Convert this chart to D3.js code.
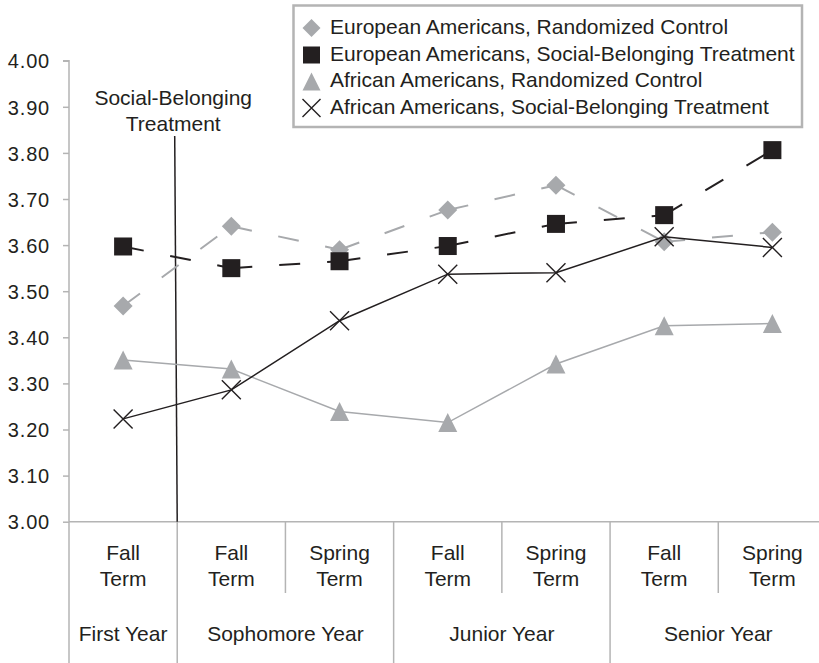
<!DOCTYPE html>
<html>
<head>
<meta charset="utf-8">
<script src="https://cdn.jsdelivr.net/npm/d3@7"></script>
<style>
  html, body { margin: 0; padding: 0; background: #fff; }
  svg { display: block; font-family: "Liberation Sans", Arial, Helvetica, sans-serif; }
</style>
</head>
<body>
<svg id="chart" width="819" height="663"></svg>
<script>
// ---- data ----
const terms = ["Fall Term", "Fall Term", "Spring Term", "Fall Term", "Spring Term", "Fall Term", "Spring Term"];
const termIds = ["FY-F", "SO-F", "SO-S", "JR-F", "JR-S", "SR-F", "SR-S"];
const years = ["First Year", "Sophomore Year", "Junior Year", "Senior Year"];
const yearSpans = [[0, 0], [1, 2], [3, 4], [5, 6]];
const yTicks = [3.0, 3.1, 3.2, 3.3, 3.4, 3.5, 3.6, 3.7, 3.8, 3.9, 4.0];

const euroControl = [3.468, 3.641, 3.590, 3.676, 3.730, 3.607, 3.628];
const euroTreat   = [3.597, 3.550, 3.565, 3.598, 3.646, 3.665, 3.806];
const afrControl  = [3.351, 3.331, 3.239, 3.215, 3.342, 3.425, 3.430];
const afrTreat    = [3.223, 3.286, 3.436, 3.537, 3.540, 3.618, 3.595];

const seriesNames = [
  "European Americans, Randomized Control",
  "European Americans, Social-Belonging Treatment",
  "African Americans, Randomized Control",
  "African Americans, Social-Belonging Treatment"
];
const annotation = ["Social-Belonging", "Treatment"];

// ---- styles ----
const GRAY = "#a7a9ac", BLACK = "#231f20", AXIS = "#b4b4b4";
const series = [
  { name: seriesNames[0], values: euroControl, color: GRAY,  dash: true,  marker: "diamond" },
  { name: seriesNames[1], values: euroTreat,   color: BLACK, dash: true,  marker: "square" },
  { name: seriesNames[2], values: afrControl,  color: GRAY,  dash: false, marker: "triangle" },
  { name: seriesNames[3], values: afrTreat,    color: BLACK, dash: false, marker: "x" }
];

const svg = d3.select("#chart");
const left = 69, axisY = 521.7, topY = 60.7;
const x = d3.scaleBand().domain(termIds).range([left, 826.5]).paddingInner(0).paddingOuter(0);
const cx = i => x(termIds[i]) + x.bandwidth() / 2;
const y = d3.scaleLinear().domain([3, 4]).range([axisY, topY]);

// ---- y axis ----
const yAxis = d3.axisLeft(y).tickValues(yTicks).tickFormat(d3.format(".2f")).tickSize(6).tickPadding(13);
const gy = svg.append("g").attr("transform", `translate(${left},0)`).call(yAxis);
gy.select(".domain").attr("stroke", AXIS).attr("stroke-width", 1.5).attr("d", `M-6,${topY}H0V${axisY}`);
gy.selectAll(".tick line").attr("stroke", AXIS).attr("stroke-width", 1.5);
gy.selectAll(".tick text").attr("fill", BLACK).style("font-size", "20px").style("letter-spacing", "0.8px")
  .attr("dy", "0.36em");

// ---- x axis ----
svg.append("line").attr("x1", left).attr("x2", 819).attr("y1", axisY).attr("y2", axisY)
  .attr("stroke", AXIS).attr("stroke-width", 1.5);
// dividers
const yearStarts = yearSpans.map(s => s[0]);
termIds.forEach((id, i) => {
  const bx = x(id);
  const isYear = yearStarts.includes(i);
  svg.append("line").attr("x1", bx).attr("x2", bx).attr("y1", axisY).attr("y2", isYear ? 663 : 593)
    .attr("stroke", AXIS).attr("stroke-width", 1.5);
});
// term labels
terms.forEach((t, i) => {
  const parts = t.split(" ");
  const tx = svg.append("text").attr("x", cx(i)).attr("text-anchor", "middle")
    .attr("fill", BLACK).style("font-size", "21px");
  tx.append("tspan").attr("x", cx(i)).attr("y", 559.5).text(parts[0]);
  tx.append("tspan").attr("x", cx(i)).attr("y", 586).text(parts[1]);
});
// year labels
years.forEach((yr, k) => {
  const [a, b] = yearSpans[k];
  const mx = (x(termIds[a]) + x(termIds[b]) + x.bandwidth()) / 2;
  svg.append("text").attr("x", mx).attr("y", 640.5).attr("text-anchor", "middle")
    .attr("fill", BLACK).style("font-size", "21px").text(yr);
});

// ---- annotation ----
const bnd = x(termIds[1]);
svg.append("line").attr("x1", bnd - 2.5).attr("y1", 136).attr("x2", bnd).attr("y2", axisY)
  .attr("stroke", BLACK).attr("stroke-width", 1.5);
annotation.forEach((t, i) => {
  svg.append("text").attr("x", bnd - 4).attr("y", 105 + i * 25.5).attr("text-anchor", "middle")
    .attr("fill", BLACK).style("font-size", "21px").text(t);
});

// ---- markers ----
function drawMarker(g, type, px, py, color, s) {
  const h = s / 2;
  if (type === "diamond") {
    g.append("path").attr("d", `M${px},${py - h}L${px + h},${py}L${px},${py + h}L${px - h},${py}Z`).attr("fill", color);
  } else if (type === "square") {
    g.append("rect").attr("x", px - h).attr("y", py - h).attr("width", s).attr("height", s).attr("fill", color);
  } else if (type === "triangle") {
    g.append("path").attr("d", `M${px},${py - h}L${px + h},${py + h}L${px - h},${py + h}Z`).attr("fill", color);
  } else {
    g.append("path").attr("d", `M${px - h},${py - h}L${px + h},${py + h}M${px + h},${py - h}L${px - h},${py + h}`)
      .attr("stroke", color).attr("stroke-width", 1.4).attr("fill", "none");
  }
}

// ---- series ----
const line = d3.line().x(d => cx(d.i)).y(d => y(d.v));
series.forEach(s => {
  const g = svg.append("g");
  const pts = s.values.map((v, i) => ({ i, v }));
  if (s.dash) {
    for (let k = 0; k < pts.length - 1; k++) {
      g.append("path").attr("d", line([pts[k], pts[k + 1]])).attr("fill", "none")
        .attr("stroke", s.color).attr("stroke-width", 2).attr("stroke-dasharray", "21,27");
    }
  } else {
    g.append("path").attr("d", line(pts)).attr("fill", "none")
      .attr("stroke", s.color).attr("stroke-width", 1.5);
  }
  pts.forEach(p => drawMarker(g, s.marker, cx(p.i), y(p.v), s.color, s.marker === "square" ? 18 : 19));
});

// ---- legend ----
const lg = svg.append("g");
lg.append("rect").attr("x", 293.5).attr("y", 5.5).attr("width", 508.5).attr("height", 121.5)
  .attr("fill", "#fff").attr("stroke", AXIS).attr("stroke-width", 2.5);
const rowY = [28, 55, 81.5, 108];
series.forEach((s, k) => {
  drawMarker(lg, s.marker, 311.5, rowY[k], s.color, s.marker === "square" ? 17 : 18);
  lg.append("text").attr("x", 330).attr("y", rowY[k] + 5.5).attr("fill", BLACK)
    .style("font-size", "21px").text(s.name);
});
</script>
</body>
</html>
